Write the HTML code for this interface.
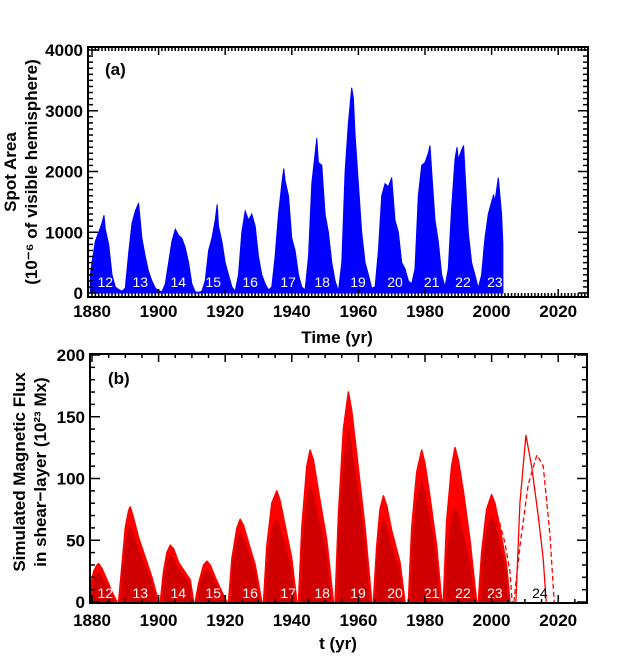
<!DOCTYPE html>
<html><head><meta charset="utf-8"><style>
html,body{margin:0;padding:0;background:#fff;}
svg{display:block;font-family:"Liberation Sans",sans-serif;}
</style></head><body>
<svg id="c" width="620" height="668" viewBox="0 0 620 668" xmlns="http://www.w3.org/2000/svg"></svg>
<script>
// Panel (a) data: sunspot area
const aYears=[1879.5,1880,1881,1882,1883,1883.6,1884,1885,1886,1887,1888,1889,1890,1891,1892,1893,1894,1895,1896,1897,1898,1899,1900,1901,1902,1903,1904,1905,1906,1907,1908,1909,1910,1911,1912,1913,1914,1915,1916,1917,1917.6,1918,1919,1920,1921,1922,1923,1924,1925,1926,1927,1928,1929,1930,1931,1932,1933,1934,1935,1936,1937,1937.6,1938,1939,1940,1941,1942,1943,1944,1945,1946,1947,1947.5,1948,1949,1950,1951,1952,1953,1954,1955,1956,1957,1958,1958.5,1959,1960,1961,1962,1963,1964,1965,1966,1967,1968,1969,1970,1971,1972,1973,1974,1975,1976,1977,1978,1979,1980,1981,1981.5,1982,1983,1984,1985,1986,1987,1988,1989,1989.6,1990,1991,1991.6,1992,1993,1994,1995,1996,1997,1998,1999,2000,2000.6,2001,2002,2003,2003.4];
const aValues=[300,500,850,1000,1150,1280,1050,800,300,100,60,30,80,650,1150,1350,1480,900,600,350,200,80,40,20,150,500,850,1050,950,900,750,500,150,20,10,30,200,700,900,1200,1460,1100,850,500,300,100,30,300,1000,1350,1200,1300,1100,600,300,150,50,100,600,1300,1800,2050,1850,1600,900,700,300,100,50,600,1800,2300,2550,2150,2100,1300,1000,500,200,30,500,2000,2800,3380,3200,2600,1800,1000,500,300,80,100,700,1600,1800,1750,1900,1200,1000,500,400,200,150,400,1600,2100,2150,2300,2430,2000,1200,850,300,100,400,1400,2200,2400,2200,2350,2430,2000,1000,500,300,80,300,900,1300,1500,1620,1500,1900,1300,800];
const aCycleLabels=["12","13","14","15","16","17","18","19","20","21","22","23"];
const aLabelYears=[1884,1894.5,1905.9,1916.4,1927.5,1938.9,1949.1,1959.9,1971,1982,1991.4,2001];
const aYTicks=[0,1000,2000,3000,4000];
const xTicks=[1880,1900,1920,1940,1960,1980,2000,2020];
// Panel (b) data
const bCycleYears=[
[1879.5,1880.5,1881.5,1882,1883,1884.5,1886,1887.5],
[1888,1889,1890,1891,1891.5,1892.5,1894,1896,1898,1900],
[1900.5,1901.5,1902.5,1903.5,1904.5,1906,1908,1909.5,1910.5],
[1911,1912,1913.5,1914.5,1915.5,1917,1919,1920.5],
[1921,1922,1923.5,1924.5,1925.5,1927,1929,1931],
[1931.5,1932.5,1934,1935.5,1936.5,1938,1940,1941.5],
[1942,1943,1944.5,1945.5,1946.5,1948,1950.5,1952.5],
[1953,1954,1955.5,1957,1958,1959.5,1962,1964],
[1964.5,1965.5,1966.5,1967.5,1968.5,1970,1972.5,1974],
[1975,1976,1977.5,1979,1980,1981.5,1983.5,1985],
[1985.5,1986.5,1988,1989,1990,1991.5,1993.5,1995.5],
[1996,1997,1998.5,2000,2001,2002.5,2004.5,2005.5]];
const bCycleValues=[
[12,25,30,31,27,18,8,0],
[0,30,60,74,77,68,52,36,20,0],
[0,25,40,46,43,32,24,18,0],
[0,15,30,33,30,20,8,0],
[0,35,60,67,62,48,30,0],
[0,45,80,90,82,62,35,0],
[0,60,110,123,115,90,50,0],
[0,70,140,170,155,120,60,0],
[0,45,75,86,78,58,32,0],
[0,60,105,123,112,85,45,0],
[0,65,110,125,115,90,50,0],
[0,40,75,87,80,60,30,0]];
const bInnerPeaks=[24,62,38,27,57,68,95,140,68,98,78,70];
const bDash1Years=[2000,2002,2004,2005.5,2006.2];
const bDash1Values=[83,68,48,25,0];
const bSolidYears=[2007.3,2008.5,2010.3,2012,2014,2015.5,2016.4];
const bSolidValues=[0,80,135,110,70,35,0];
const bDash2Years=[2006.7,2008.5,2011,2013.6,2015.5,2017.5,2018.8];
const bDash2Values=[0,45,95,119,110,55,0];
const bLabels=["12","13","14","15","16","17","18","19","20","21","22","23","24"];
const bLabelYears=[1884,1894.5,1905.9,1916.4,1927.5,1938.9,1949.1,1959.9,1971,1982,1991.4,2001,2014.5];
const bYTicks=[0,50,100,150,200];

const svg=document.getElementById('c');
const NS='http://www.w3.org/2000/svg';
function mk(tag,attrs,parent){const e=document.createElementNS(NS,tag);for(const k in attrs)e.setAttribute(k,attrs[k]);(parent||svg).appendChild(e);return e;}
const xS=y=>92+(y-1880)*3.33;
const A={l:88,r:588,t:47,b:297};
const B={l:90,r:587,t:354,b:603};
const yA=v=>293-v*(243/4000);
const yB=v=>602-v*(247/200);

const gA=mk('g',{});


let d='M'+xS(aYears[0])+','+yA(0);
aYears.forEach((y,i)=>{d+=' L'+xS(y).toFixed(1)+','+yA(aValues[i]).toFixed(1);});
d+=' L'+xS(aYears[aYears.length-1])+','+yA(0)+' Z';
const pa=mk('path',{d:d,fill:'#0000ff',stroke:'#0000ff','stroke-width':1},gA);


aCycleLabels.forEach((t,i)=>{const e=mk('text',{x:xS(aLabelYears[i]),y:287,fill:'#fff','font-size':14,'text-anchor':'middle'},gA);e.textContent=t;

});

const gB=mk('g',{});


bCycleYears.forEach((ys,c)=>{
  const vs=bCycleValues[c];
  let p='M'+xS(ys[0])+','+yB(0);
  ys.forEach((y,i)=>{p+=' L'+xS(y).toFixed(1)+','+yB(vs[i]).toFixed(1);});
  p+=' L'+xS(ys[ys.length-1])+','+yB(0)+' Z';
  const e=mk('path',{d:p,fill:'#ff0000',stroke:'#ff0000','stroke-width':1.5,'stroke-linejoin':'round'},gB);
  
  
  const pk=Math.max(...vs),f=bInnerPeaks[c]/pk;
  let q='M'+xS(ys[0]+0.6)+','+yB(0);
  ys.forEach((y,i)=>{q+=' L'+xS(y+(i===0?0.6:i===ys.length-1?-0.6:0)).toFixed(1)+','+yB(vs[i]*f).toFixed(1);});
  q+=' Z';
  const e2=mk('path',{d:q,fill:'#d00000'},gB);
  
  
});
function line(ys,vs,dash,name){let p='';ys.forEach((y,i)=>{p+=(i?' L':'M')+xS(y).toFixed(1)+','+yB(vs[i]).toFixed(1);});
const e=mk('path',{d:p,fill:'none',stroke:'#ff0000','stroke-width':1.3,'stroke-dasharray':dash,'stroke-linejoin':'round'},gB);

}
line(bDash1Years,bDash1Values,'5,3','prediction-dashed-decline');
line(bSolidYears,bSolidValues,'none','prediction-solid-cycle24');
line(bDash2Years,bDash2Values,'5,3','prediction-dashed-cycle24');
bLabels.forEach((t,i)=>{const e=mk('text',{x:xS(bLabelYears[i]),y:598,fill:i===12?'#000':'#fff','font-size':14,'text-anchor':'middle'},gB);e.textContent=t;

});

function axes(P,yF,yT,yMinor,xMinor,labelY,name){
  const g=mk('g',{});
  
  
  mk('rect',{x:P.l,y:P.t,width:P.r-P.l,height:P.b-P.t,fill:'none',stroke:'#000','stroke-width':2},g);
  for(let y=1880;y<=2029;y+=xMinor){const x=xS(y);if(x<P.l||x>P.r)continue;const L=(y%20===0)?8:4;
    mk('line',{x1:x,y1:P.b,x2:x,y2:P.b-L,stroke:'#000','stroke-width':1.5},g);
    mk('line',{x1:x,y1:P.t,x2:x,y2:P.t+L,stroke:'#000','stroke-width':1.5},g);}
  const top=yT[yT.length-1];
  for(let v=0;v<=top;v+=yMinor){const y=yF(v);const maj=yT.includes(v);const L=maj?10:5;
    mk('line',{x1:P.l,y1:y,x2:P.l+L,y2:y,stroke:'#000','stroke-width':1.5},g);
    mk('line',{x1:P.r,y1:y,x2:P.r-L,y2:y,stroke:'#000','stroke-width':1.5},g);}
  yT.forEach(v=>{const e=mk('text',{x:P.l-5,y:yF(v)+6,'font-size':17,'font-weight':'bold','text-anchor':'end',fill:'#000'},g);e.textContent=v;
  
  });
  xTicks.forEach(v=>{const e=mk('text',{x:xS(v),y:labelY,'font-size':17,'font-weight':'bold','text-anchor':'middle',fill:'#000'},g);e.textContent=v;
  
  });
}
axes(A,yA,aYTicks,100,1,317,'axes-a');
axes(B,yB,bYTicks,10,5,626,'axes-b');

function txt(s,attrs,name){const e=mk('text',Object.assign({'font-size':17,'font-weight':'bold',fill:'#000'},attrs));e.textContent=s;

return e;}
txt('(a)',{x:105,y:75},'panel-a-tag');
txt('(b)',{x:108,y:384},'panel-b-tag');
txt('Time (yr)',{x:337,y:343,'text-anchor':'middle'},'x-axis-title-a');
txt('t (yr)',{x:338,y:649,'text-anchor':'middle'},'x-axis-title-b');
txt('Spot Area',{x:0,y:0,'text-anchor':'middle',transform:'translate(16,172) rotate(-90)'},'y-axis-title-a');
txt('(10\u207B\u2076 of visible hemisphere)',{x:0,y:0,'text-anchor':'middle',transform:'translate(37,172) rotate(-90)'},'y-axis-subtitle-a');
txt('Simulated Magnetic Flux',{x:0,y:0,'text-anchor':'middle',transform:'translate(25,472) rotate(-90)'},'y-axis-title-b');
txt('in shear\u2212layer (10\u00B2\u00B3 Mx)',{x:0,y:0,'text-anchor':'middle',transform:'translate(46,472) rotate(-90)'},'y-axis-subtitle-b');
</script>
</body></html>
